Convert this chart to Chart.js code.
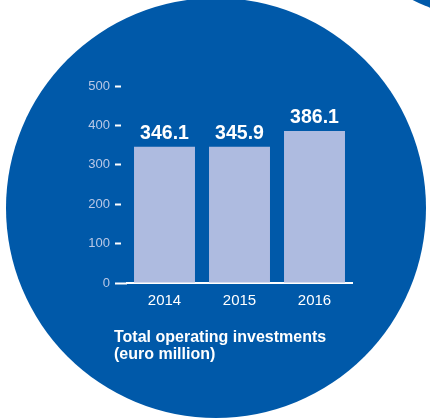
<!DOCTYPE html>
<html>
<head>
<meta charset="utf-8">
<title>Total operating investments</title>
<script src="https://cdn.jsdelivr.net/npm/chart.js@4/dist/chart.umd.min.js"></script>
<style>
    html, body {
        margin: 0;
        padding: 0;
        background: #ffffff;
    }
    .stage {
        position: relative;
        width: 430px;
        height: 420px;
        overflow: hidden;
        font-family: "Liberation Sans", Arial, sans-serif;
    }
    .disc {
        position: absolute;
        border-radius: 50%;
        background: #0059a9;
    }
    .disc-main {
        left: 6px;
        top: -2px;
        width: 420px;
        height: 420px;
    }
    .disc-corner {
        left: 332px;
        top: -283px;
        width: 300px;
        height: 300px;
    }
    #investChart {
        position: absolute;
        left: 0;
        top: 0;
    }
    .caption {
        position: absolute;
        left: 114px;
        top: 329px;
        color: #ffffff;
        font-weight: bold;
        font-size: 16px;
        line-height: 16.5px;
    }
</style>
</head>
<body>
<div class="stage">
    <div class="disc disc-main"></div>
    <div class="disc disc-corner"></div>
    <canvas id="investChart" width="430" height="420"></canvas>
    <div class="caption">Total operating investments<br>(euro million)</div>
</div>

<script>
const years = ['2014', '2015', '2016'];
const investments = [346.1, 345.9, 386.1];
const yTicks = [0, 100, 200, 300, 400, 500];

// value printed above each bar
const barValueLabels = {
    id: 'barValueLabels',
    afterDatasetsDraw(chart) {
        const ctx = chart.ctx;
        const meta = chart.getDatasetMeta(0);
        ctx.save();
        ctx.fillStyle = '#ffffff';
        ctx.font = 'bold 19.5px "Liberation Sans", Arial, sans-serif';
        ctx.textAlign = 'center';
        ctx.textBaseline = 'alphabetic';
        meta.data.forEach((bar, i) => {
            ctx.fillText(investments[i].toFixed(1), bar.x, bar.y - 7.5);
        });
        ctx.restore();
    }
};

const ctx = document.getElementById('investChart').getContext('2d');
new Chart(ctx, {
    type: 'bar',
    data: {
        labels: years,
        datasets: [{
            label: 'Total operating investments',
            data: investments,
            backgroundColor: '#aebbe0',
            borderWidth: 0,
            categoryPercentage: 1,
            barPercentage: 0.813
        }]
    },
    options: {
        responsive: false,
        animation: false,
        devicePixelRatio: 1,
        layout: {
            padding: { left: 80, right: 78, top: 86, bottom: 107 }
        },
        plugins: {
            legend: { display: false },
            tooltip: { enabled: false }
        },
        scales: {
            x: {
                grid: { display: false },
                border: { display: true, color: '#ffffff', width: 2 },
                ticks: {
                    color: '#ffffff',
                    font: { family: '"Liberation Sans", Arial, sans-serif', size: 15 },
                    padding: 1
                },
                afterFit(scale) {
                    scale.height = 30;
                }
            },
            y: {
                min: 0,
                max: 500,
                afterBuildTicks(scale) {
                    scale.ticks = yTicks.map(v => ({ value: v }));
                },
                border: { display: false },
                grid: {
                    drawOnChartArea: false,
                    drawTicks: true,
                    tickLength: 12,
                    tickColor: '#ffffff',
                    tickWidth: 2,
                    // short dash away from the plot, except on the zero line
                    tickBorderDash: (c) => (c.tick && c.tick.value === 0 ? [] : [6, 6])
                },
                ticks: {
                    color: '#b9c8e6',
                    font: { family: '"Liberation Sans", Arial, sans-serif', size: 13 },
                    padding: 5
                },
                afterFit(scale) {
                    scale.width = 47;
                }
            }
        }
    },
    plugins: [barValueLabels]
});
</script>
</body>
</html>
